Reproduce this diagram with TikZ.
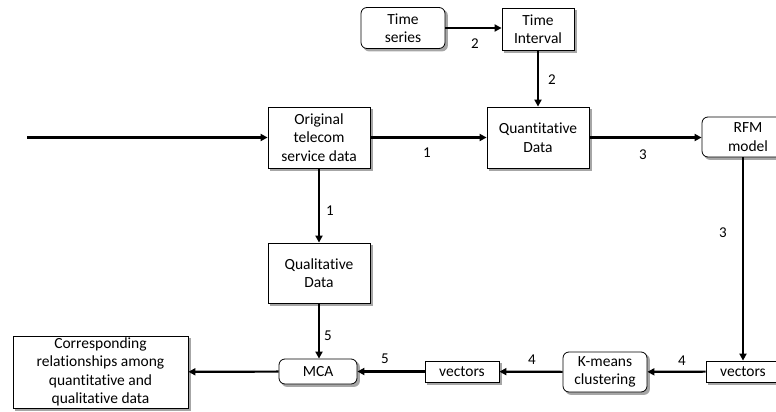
\documentclass[tikz,border=0pt]{standalone}
\usepackage{fontspec}
\setmainfont{Carlito}[Ligatures={NoCommon}]
\usetikzlibrary{arrows.meta}
\pgfdeclarelayer{bg}
\pgfsetlayers{bg,main}
\begin{document}
\begin{tikzpicture}[x=1pt,y=-1pt,
  box/.style={draw, line width=0.8pt, fill=white, align=center, inner sep=0pt,
    font=\fontsize{15.5}{18.5}\selectfont},
  rbox/.style={box, rounded corners=6pt},
  shadowbox/.style={fill=black!35, draw=none},
  conn/.style={line width=2.2pt, -{Triangle[length=7pt,width=7pt]}},
  lab/.style={font=\fontsize{15}{17}\selectfont}]
\useasboundingbox (0,0) rectangle (776,412);
% nodes
\node[rbox, minimum width=84pt, minimum height=41pt] (ts) at (403,28) {Time\\series};
\node[box, minimum width=72pt, minimum height=42pt] (ti) at (538,29) {Time\\Interval};
\node[box, minimum width=102pt, minimum height=61pt] (orig) at (319,137.5) {Original\\telecom\\service data};
\node[box, minimum width=102pt, minimum height=61pt] (quant) at (538,137.5) {Quantitative\\Data};
\node[rbox, minimum width=92pt, minimum height=40pt] (rfm) at (748,137) {RFM\\model};
\node[box, minimum width=102pt, minimum height=60pt] (qual) at (319,273) {Qualitative\\Data};
\node[box, minimum width=74pt, minimum height=21pt] (vec2) at (743,371.5) {vectors};
\node[rbox, minimum width=84pt, minimum height=40pt] (km) at (605,372) {K-means\\clustering};
\node[box, minimum width=74pt, minimum height=21pt] (vec1) at (462,371.5) {vectors};
\node[rbox, minimum width=78pt, minimum height=25pt] (mca) at (318,371.5) {MCA};
\node[box, minimum width=175pt, minimum height=72pt] (corr) at (100.5,372) {Corresponding\\relationships among\\quantitative and\\qualitative data};
% shadows
\begin{pgfonlayer}{bg}
\foreach \n in {ti,orig,quant,qual,vec2,vec1,corr}
  \fill[shadowbox] ([xshift=2.5pt,yshift=-2.5pt]\n.south west) rectangle ([xshift=2.5pt,yshift=-2.5pt]\n.north east);
\foreach \n in {ts,rfm,km,mca}
  \fill[shadowbox, rounded corners=6pt] ([xshift=2.5pt,yshift=-2.5pt]\n.south west) rectangle ([xshift=2.5pt,yshift=-2.5pt]\n.north east);
\end{pgfonlayer}
% connectors
\coordinate (in) at (27,137.5);
\draw[conn] (in) -- (orig.west);
\draw[conn] (orig) -- (quant);
\draw[conn] (ts) -- (ti.west |- ts);
\draw[conn] (ti) -- (quant);
\draw[conn] (quant) -- (rfm.west |- quant);
\draw[conn] (rfm.south -| vec2.north) -- (vec2.north);
\draw[conn] (vec2) -- (km);
\draw[conn] (km) -- (vec1);
\draw[conn] (vec1) -- (mca);
\draw[conn] (orig) -- (qual);
\draw[conn] (qual) -- (mca.north -| qual);
\draw[conn] (mca) -- (corr);
% labels
\node[lab] (l1) at (427,153) {1};
\node[lab] (l2) at (475,44) {2};
\node[lab] (l3) at (552,80) {2};
\node[lab] (l4) at (643,155) {3};
\node[lab] (l5) at (723,233) {3};
\node[lab] (l6) at (682,361) {4};
\node[lab] (l7) at (532,360) {4};
\node[lab] (l8) at (385,359) {5};
\node[lab] (l9) at (330,211) {1};
\node[lab] (l10) at (328,336) {5};
\end{tikzpicture}
\end{document}
